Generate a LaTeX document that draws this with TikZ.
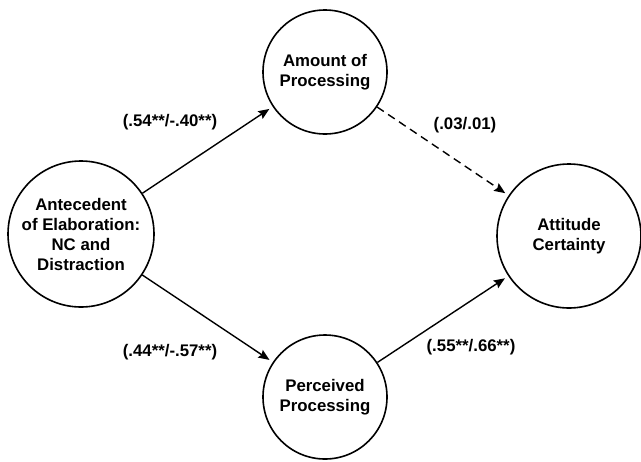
\documentclass[tikz,border=0pt]{standalone}
\usepackage{fontspec}
\setmainfont{Liberation Sans}
\usetikzlibrary{arrows.meta}

\begin{document}
\begin{tikzpicture}[x=0.5pt,y=-0.5pt,
  varcircle/.style={circle, draw=black, line width=0.8pt, inner sep=0pt,
    align=center, font=\fontsize{8.4}{10}\selectfont\bfseries},
  pathlabel/.style={font=\fontsize{8.4}{10}\selectfont\bfseries, inner sep=0pt},
  patharrow/.style={line width=0.7pt, shorten >=2pt,
    -{Stealth[length=5.5pt,width=4.5pt,inset=0.8pt]}},
  weakarrow/.style={patharrow, dash pattern=on 4pt off 2.6pt}
]
  \useasboundingbox (0,0) rectangle (641,461);

  % variables
  \node[varcircle, minimum size=73pt] (ante) at (81,234)
    {Antecedent\\of Elaboration:\\NC and\\Distraction};
  \node[varcircle, minimum size=62pt] (amount) at (325,72)
    {Amount of\\Processing};
  \node[varcircle, minimum size=62pt] (perceived) at (325,397)
    {Perceived\\Processing};
  \node[varcircle, minimum size=72pt] (certainty) at (569,236)
    {Attitude\\Certainty};

  % paths
  \draw[patharrow] (ante) -- (amount);
  \draw[patharrow] (ante) -- (perceived);
  \draw[weakarrow] (amount) -- (certainty);
  \draw[patharrow] (perceived) -- (certainty);

  % coefficients
  \node[pathlabel] (c1) at (170,122) {(.54**/-.40**)};
  \node[pathlabel] (c2) at (170,352) {(.44**/-.57**)};
  \node[pathlabel] (c3) at (465,125) {(.03/.01)};
  \node[pathlabel] (c4) at (471,347) {(.55**/.66**)};
\end{tikzpicture}
\end{document}
